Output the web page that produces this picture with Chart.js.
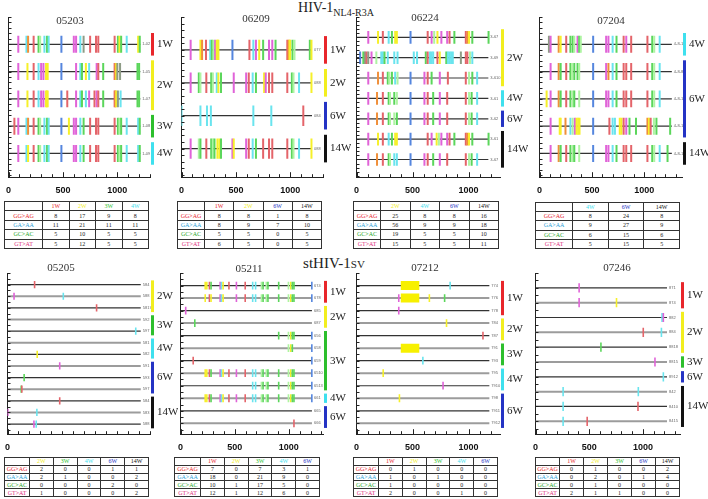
<!DOCTYPE html>
<html>
<head>
<meta charset="utf-8">
<script src="https://cdn.jsdelivr.net/npm/chart.js@4/dist/chart.umd.min.js"></script>
<style>
  body { margin: 0; background: #fff; }
  #fig { position: relative; width: 708px; height: 499px; overflow: hidden; font-family: 'Liberation Serif', 'DejaVu Serif', serif; color: #222; }
  #fig canvas { position: absolute; }
  .maintitle { position: absolute; white-space: nowrap; transform: translate(-50%, -50%); }
  .ptitle { position: absolute; font-size: 11px; transform: translate(-50%, -50%); color: #333; }
  table.counts { position: absolute; border-collapse: collapse; table-layout: fixed; font-size: 6px; background: #fff; }
  table.counts td { border: 1px solid #333; text-align: center; padding: 0; line-height: 6px; }
</style>
</head>
<body>
<div id="fig">
  <div class="maintitle" style="left:336px; top:9px; font-size:14px;">HIV-1<sub style="font-size:10px;">NL4-R3A</sub></div>
  <div class="maintitle" style="left:334px; top:263px; font-size:15px;">stHIV-1<span style="font-variant:small-caps;">sv</span></div>
</div>
<script>
// ---- data ----
const panelIds = ['05203', '06209', '06224', '07204', '05205', '05211', '07212', '07246'];
const seqLengths = [1211, 1199, 1176, 1263, 1225, 1213, 1185, 1224];
const contexts = ['GG>AG', 'GA>AA', 'GC>AC', 'GT>AT'];

// mutation positions per sequence: position + colour code
const ticks05203 = [
  '90m 165c 180o 231r 276g 291l 330c 354g 369c 486b 600m 621m 660c 690k 750r 804r 825r 975r 1005g 1020y 1035g 1086c 1191y 1206g',
  '90m 174y 231r 276c 300m 321m 345y 352y 360y 486b 621m 660c 675g 711y 741c 810m 825r 870g 975r 982o 990y 1000k 1025k 1185g 1200g',
  '90m 174y 231r 276c 300m 321m 345y 352y 360y 486b 540r 621m 660c 675g 711c 741m 790r 810m 825r 870g 975r 982o 990y 1005k 1030c 1185g 1200g',
  '54r 90m 165c 180o 231r 276g 291l 330c 354g 369c 486b 555y 600m 621m 660c 690g 750r 804r 825r 975r 1005g 1020l 1035g 1086c 1191c 1206g',
  '90m 165c 180y 231r 276g 291l 330c 354g 369c 486b 600m 621m 660c 690g 750r 804r 825r 975r 1005g 1020l 1035g 1086c 1191c 1206g'
];
const ticks06209 = [
  '84m 174y 189o 225r 264c 279g 294l 309m 324y 333y 339y 468b 624r 660c 684m 714y 750g 804m 834m 864g 972r 984o 993y 999y 1020g 1038l 1179g 1194y',
  '84m 159g 174l 228r 273g 288l 324c 339y 363g 480m 594m 618r 654c 684g 759y 774m 804r 834r 972r 1014g 1029l 1080c 1194y',
  '0c 174c 234c 270c 660c 825c 1119r',
  '84m 159l 174g 228r 273g 288l 303g 330y 348y 363g 468m 480y 594m 618r 654c 684g 750r 804r 834r 972r 1014g 1029l 1080c 1194y'
];
const ticks06224 = [
  '105m 192y 235r 287c 316g 345y 360y 482b 635r 670m 693l 722y 757m 809m 830r 873g 975r 989o 1004y 1033g 1178g',
  '32b 61g 76k 90r 105k 134m 177l 221c 235c 250g 279c 337c 366c 511c 540c 618g 635r 656c 670c 684c 722r 743y 801g 815c 830c 844c 859c 931k 975r 989r 1012l 1033c',
  '105m 192o 235r 279g 293l 316g 345c 366l 482b 606m 635r 670g 743m 815r 975r 1004l 1033g 1076c',
  '105m 183o 235r 287g 299l 337g 360l 482b 606m 635r 684g 743m 809r 975r 1004l 1027g 1076c',
  '105m 183o 235r 287g 299l 337l 360g 482b 606m 635r 684g 743m 809r 975r 1004l 1027g 1076c',
  '105m 192y 235r 287c 316g 345y 360y 482b 635r 670m 715y 735l 757m 809m 830r 873g 975r 989o 1004y 1033g 1178g',
  '105m 183o 235r 287g 299l 337c 360c 482b 606m 635r 684g 743m 809r 975r 1004l 1027g 1076c'
];
const ticks07204 = [
  '90k 106m 183o 202y 255r 295g 317g 332l 363m 379g 394l 512b 636m 658m 698c 735g 803r 828m 875r 1030r 1076g 1095l 1147c',
  '106m 183o 202g 255r 295g 310l 332g 363g 379l 512b 636m 658o 698c 735g 803r 828r 875r 1030r 1076g 1095l 1147c',
  '68y 106m 183o 202g 255r 295g 317l 332g 379l 512b 636m 658m 698c 735g 803r 828r 875r 1030r 1076g 1095l 1147c',
  '106m 193y 202y 248o 295c 317l 338m 354y 369y 382y 512b 667r 698c 720c 766y 782y 803r 828m 859g 921g 1030o 1045y 1061r 1092l 1116g 1247g',
  '106m 183o 202g 255r 295g 317l 332g 379l 512b 636m 658m 698c 735g 803r 828r 875r 1030r 1076g 1095l 1147c 1222g'
];
const ticks05205 = ['249r', '60m 513c', '819r', '', '1179c', '', '273y', '480m', '153g', '126g 132r', '480r', '3m 270c', '243m 264c'];
const ticks05211 = [
  '228y 243y 267r 282g 366m 378c 393y 447r 516m 597r 666c 693c 747l 762g 792l 807g 906g 996l 1017y 1032g 1047g 1212b',
  '228y 267r 282y 366m 378c 393y 516m 597r 666c 693c 747l 762g 792l 807g 906g 996l 1017y 1032g 1047g 1212b',
  '48m',
  '132g',
  '906g 996l 1017y 1032g 1047g 1212b',
  '996l 1017y 1032g 1212b',
  '117r 1212b',
  '228y 243y 267r 282g 366m 378c 393y 447r 516m 597r 666c 693c 747l 762g 792l 807g 906g 996l 1017y 1032g 1047g 1212b',
  '666c 693c 747l 762g 792l 807g 906g 996l 1017y 1032g 1047g 1212b',
  '228y 243y 267r 282g 366m 378c 393y 447r 516m 597r 666c 693c 747l 762g 792l 807g 906g 996l 1017y 1032g 1047g 1212b',
  '',
  '1047r'
];
const ticks07212 = ['835c', '377m 650y 786g', '377m', '803y', '1128r', '', '592c', '238y', '772m', '383y', '', ''];
const ticks07246 = ['406m', '406m 754y', '1178c 1190m', '1003r 1172c', '609g', '1112m', '1190c', '257c 957c', '257c 954r', '257c 481r'];
// yellow blocks in 07212: [row, start, end]
const blocks07212 = [[0, 395, 560], [1, 395, 560], [5, 395, 560]];

// sequence names at the end of each line
const names05203 = ['1-02', '1-05', '1-07', '1-08', '1-09'];
const names06209 = ['077', '088', '084', '088'];
const names06224 = ['3-67', '3-69', '3-610', '3-61', '3-62', '3-61', '3-67'];
const names07204 = ['4-8-11', '4-8-8', '4-8-14', '4-8-15', '4-8-17'];
const names05205 = ['584', '588', '5817', '592', '597', '581', '582', '591', '593', '597', '584', '583', '588'];
const names05211 = ['674', '678', '685', '687', '656', '658', '659', '6510', '6513', '661', '665', '666'];
const names07212 = ['774', '776', '778', '784', '787', '791', '793', '795', '7910', '798', '7911', '7912'];
const names07246 = ['871', '874', '882', '884', '8818', '8815', '8912', '842', '8410', '8415'];

// week groups: [label, first row, last row]
const weeks05203 = [['1W', 0, 0], ['2W', 1, 2], ['3W', 3, 3], ['4W', 4, 4]];
const weeks06209 = [['1W', 0, 0], ['2W', 1, 1], ['6W', 2, 2], ['14W', 3, 3]];
const weeks06224 = [['2W', 0, 2], ['4W', 3, 3], ['6W', 4, 4], ['14W', 5, 6]];
const weeks07204 = [['4W', 0, 0], ['6W', 1, 3], ['14W', 4, 4]];
const weeks05205 = [['2W', 0, 2], ['3W', 3, 4], ['4W', 5, 6], ['6W', 7, 9], ['14W', 10, 12]];
const weeks05211 = [['1W', 0, 1], ['2W', 2, 3], ['3W', 4, 8], ['4W', 9, 9], ['6W', 10, 11]];
const weeks07212 = [['1W', 0, 2], ['2W', 3, 4], ['3W', 5, 6], ['4W', 7, 8], ['6W', 9, 11]];
const weeks07246 = [['1W', 0, 1], ['2W', 2, 4], ['3W', 5, 5], ['6W', 6, 6], ['14W', 7, 9]];

// counts per context (rows) and week (columns)
const counts05203 = [[8, 17, 9, 8], [11, 21, 11, 11], [5, 10, 5, 5], [5, 12, 5, 5]];
const counts06209 = [[8, 8, 1, 8], [8, 9, 7, 10], [5, 5, 0, 5], [6, 5, 0, 5]];
const counts06224 = [[25, 8, 8, 16], [56, 9, 9, 18], [19, 5, 5, 10], [15, 5, 5, 11]];
const counts07204 = [[8, 24, 8], [9, 27, 9], [6, 15, 6], [5, 15, 5]];
const counts05205 = [[2, 0, 0, 1, 1], [2, 1, 0, 0, 2], [0, 0, 0, 2, 0], [1, 0, 0, 0, 2]];
const counts05211 = [[7, 0, 7, 3, 1], [18, 0, 21, 9, 0], [10, 1, 17, 5, 0], [12, 1, 12, 6, 0]];
const counts07212 = [[0, 1, 0, 0, 0], [1, 0, 1, 0, 0], [1, 0, 0, 0, 0], [2, 0, 0, 1, 0]];
const counts07246 = [[0, 1, 0, 0, 2], [0, 2, 0, 1, 4], [0, 1, 0, 0, 0], [2, 1, 1, 0, 0]];

// ---- styles ----
const MUT_COLORS = { m: '#e063d8', y: '#f6f02a', r: '#e4646a', c: '#6ae4ee', g: '#5bd65b', l: '#aef4a2', b: '#5586de', o: '#f0903a', k: '#8e9c86' };
const WEEK_COLORS = { '1W': '#e8262b', '2W': '#f2ee1e', '3W': '#2dbf2d', '4W': '#3ee0ee', '6W': '#2433c4', '14W': '#111111' };
const CONTEXT_COLORS = ['#e8262b', '#2f9fd8', '#2aa82a', '#e0307e'];

// canvas box [left, top, w, h], x max, y tick step, title centre, table box [left, top, w, h, first col]
const layout = {
  '05203': { box: [-2, 14, 180, 192], xMax: 1300, yStep: 0.2, title: [70, 20], table: [4, 201, 145, 48, 38], grayRows: [] },
  '06209': { box: [171, 14, 180, 192], xMax: 1300, yStep: 0.2, title: [256, 18], table: [177, 201, 145, 48, 27], grayRows: [] },
  '06224': { box: [346, 14, 182, 192], xMax: 1280, yStep: 0.2, title: [425, 17], table: [353, 201, 146, 48, 27], grayRows: [2] },
  '07204': { box: [529, 14, 181, 192], xMax: 1360, yStep: 0.2, title: [611, 20], table: [535, 202, 145, 47, 37], grayRows: [] },
  '05205': { box: [-3, 270, 181, 193], xMax: 1310, yStep: 0.5, title: [61, 267], table: [4, 457, 145, 40, 25], grayRows: [1, 3, 5, 7, 9, 11] },
  '05211': { box: [170, 270, 181, 193], xMax: 1315, yStep: 0.5, title: [249, 268], table: [174, 457, 146, 40, 26], grayRows: [1, 3, 5, 7, 9, 11] },
  '07212': { box: [346, 270, 182, 193], xMax: 1280, yStep: 0.5, title: [425, 267], table: [353, 457, 145, 40, 25], grayRows: [1, 3, 5, 7, 9, 11] },
  '07246': { box: [525, 270, 183, 193], xMax: 1345, yStep: 0.5, title: [617, 267], table: [535, 457, 145, 40, 24], grayRows: [1, 3, 5, 7, 9] }
};

const panelData = {
  '05203': { ticks: ticks05203, names: names05203, weeks: weeks05203, counts: counts05203 },
  '06209': { ticks: ticks06209, names: names06209, weeks: weeks06209, counts: counts06209 },
  '06224': { ticks: ticks06224, names: names06224, weeks: weeks06224, counts: counts06224 },
  '07204': { ticks: ticks07204, names: names07204, weeks: weeks07204, counts: counts07204 },
  '05205': { ticks: ticks05205, names: names05205, weeks: weeks05205, counts: counts05205 },
  '05211': { ticks: ticks05211, names: names05211, weeks: weeks05211, counts: counts05211 },
  '07212': { ticks: ticks07212, names: names07212, weeks: weeks07212, counts: counts07212, blocks: blocks07212 },
  '07246': { ticks: ticks07246, names: names07246, weeks: weeks07246, counts: counts07246 }
};

const fig = document.getElementById('fig');

function parseRow(str, row) {
  return str.split(/\s+/).filter(Boolean).map(tok => ({
    x: parseFloat(tok),
    y: row,
    t: tok.replace(/[0-9.]/g, '')
  }));
}

function rowGap(chart) {
  const y = chart.scales && chart.scales.y;
  if (!y) return 10;
  return Math.abs(y.getPixelForValue(1) - y.getPixelForValue(0));
}

// tick marks pointing into the plot, as in the original figure
const inwardTicks = {
  id: 'inwardTicks',
  afterDraw(chart) {
    const { ctx, chartArea: ca, scales: { x, y } } = chart;
    ctx.save();
    ctx.strokeStyle = '#222';
    ctx.lineWidth = 1;
    ctx.beginPath();
    x.ticks.forEach(t => {
      const px = Math.round(x.getPixelForValue(t.value)) + 0.5;
      const len = t.value % 500 === 0 ? 5 : 3;
      ctx.moveTo(px, ca.bottom);
      ctx.lineTo(px, ca.bottom - len);
    });
    y.ticks.forEach(t => {
      const py = Math.round(y.getPixelForValue(t.value)) + 0.5;
      ctx.moveTo(ca.left, py);
      ctx.lineTo(ca.left + 3, py);
    });
    ctx.stroke();
    ctx.restore();
  }
};

// brackets, week labels and sequence names on the right
function sidePlugin(id, len, d) {
  return {
    id: 'side' + id,
    afterDatasetsDraw(chart) {
      const { ctx, chartArea, scales: { x, y } } = chart;
      ctx.save();
      ctx.textBaseline = 'middle';
      ctx.font = '4px "Liberation Sans"';
      ctx.fillStyle = '#666';
      d.names.forEach((n, i) => {
        ctx.fillText(n, x.getPixelForValue(len) + 2, y.getPixelForValue(i));
      });
      const bx = chartArea.right + 1;
      d.weeks.forEach(([w, a, b]) => {
        const y1 = y.getPixelForValue(a - 0.45);
        const y2 = y.getPixelForValue(b + 0.45);
        ctx.fillStyle = WEEK_COLORS[w];
        ctx.fillRect(bx, y1 + 1, 3, y2 - y1 - 2);
        ctx.fillStyle = '#222';
        ctx.font = '11px "Liberation Serif"';
        ctx.fillText(w, bx + 6, (y1 + y2) / 2);
      });
      ctx.restore();
    }
  };
}

function makeTable(id, d) {
  const [left, top, w, h, firstW] = layout[id].table;
  const t = document.createElement('table');
  t.className = 'counts';
  t.style.left = left + 'px';
  t.style.top = top + 'px';
  t.style.width = w + 'px';
  t.style.height = h + 'px';
  const cg = document.createElement('colgroup');
  const c0 = document.createElement('col');
  c0.style.width = firstW + 'px';
  cg.appendChild(c0);
  d.weeks.forEach(() => cg.appendChild(document.createElement('col')));
  t.appendChild(cg);
  const head = t.insertRow();
  head.insertCell();
  d.weeks.forEach(([w]) => {
    const c = head.insertCell();
    c.textContent = w;
    c.style.color = WEEK_COLORS[w];
  });
  contexts.forEach((name, i) => {
    const r = t.insertRow();
    const c = r.insertCell();
    c.textContent = name;
    c.style.color = CONTEXT_COLORS[i];
    d.counts[i].forEach(v => { r.insertCell().textContent = v; });
  });
  fig.appendChild(t);
}

panelIds.forEach((id, pi) => {
  const d = panelData[id];
  const L = layout[id];
  const len = seqLengths[pi];
  const n = d.ticks.length;

  const cv = document.createElement('canvas');
  cv.width = L.box[2];
  cv.height = L.box[3];
  cv.style.left = L.box[0] + 'px';
  cv.style.top = L.box[1] + 'px';
  fig.appendChild(cv);

  const title = document.createElement('div');
  title.className = 'ptitle';
  title.textContent = id;
  title.style.left = L.title[0] + 'px';
  title.style.top = L.title[1] + 'px';
  fig.appendChild(title);

  const marks = [];
  d.ticks.forEach((s, row) => marks.push(...parseRow(s, row)));

  const datasets = [{
    data: marks,
    order: 0,
    showLine: false,
    pointStyle: 'line',
    pointRotation: 90,
    pointRadius: ctx => rowGap(ctx.chart) * 0.31,
    pointHoverRadius: ctx => rowGap(ctx.chart) * 0.31,
    pointBorderWidth: pi < 4 ? 2 : 1.6,
    pointBorderColor: ctx => MUT_COLORS[ctx.raw && ctx.raw.t] || '#888'
  }];

  (d.blocks || []).forEach(([row, a, b]) => {
    datasets.push({
      data: [{ x: a, y: row }, { x: b, y: row }],
      order: 1,
      showLine: true,
      borderColor: '#f7f000',
      borderWidth: 9,
      borderCapStyle: 'butt',
      pointRadius: 0
    });
  });

  for (let row = 0; row < n; row++) {
    const gray = L.grayRows.includes(row);
    datasets.push({
      data: [{ x: 0, y: row }, { x: len, y: row }],
      order: 2,
      showLine: true,
      borderColor: gray ? '#9c9c9c' : '#333333',
      borderWidth: gray ? 2 : 1.2,
      pointRadius: 0
    });
  }

  new Chart(cv, {
    type: 'scatter',
    data: { datasets },
    plugins: [sidePlugin(id, len, d), inwardTicks],
    options: {
      responsive: false,
      animation: false,
      events: [],
      layout: { padding: { left: 7, top: 3, right: 28, bottom: 2 } },
      plugins: { legend: { display: false }, tooltip: { enabled: false } },
      scales: {
        x: {
          type: 'linear',
          min: 0,
          max: L.xMax,
          border: { color: '#222', width: 1 },
          grid: { drawOnChartArea: false, drawTicks: false },
          ticks: {
            stepSize: 100,
            autoSkip: false,
            maxRotation: 0,
            includeBounds: false,
            padding: 8,
            color: '#111',
            font: { family: 'Liberation Sans', size: 9, weight: 'bold' },
            callback: v => (v % 500 === 0 ? v : '')
          }
        },
        y: {
          type: 'linear',
          reverse: true,
          min: -1,
          max: n - 1 + 0.87,
          border: { color: '#222', width: 1 },
          grid: { drawOnChartArea: false, drawTicks: false },
          ticks: { display: false, stepSize: L.yStep, includeBounds: false }
        }
      }
    }
  });

  makeTable(id, d);
});
</script>
</body>
</html>
